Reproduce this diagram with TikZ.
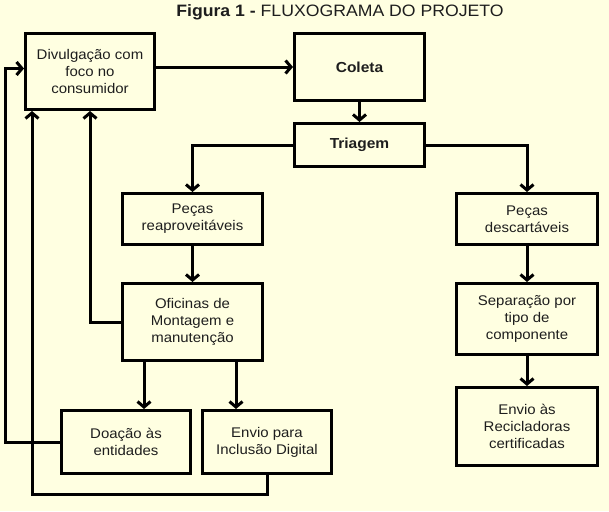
\documentclass[tikz,border=0pt]{standalone}
\usepackage{fontspec}
\setmainfont{Liberation Sans}[FakeStretch=1.07]
\usetikzlibrary{positioning,arrows.meta}
\definecolor{cPaper}{HTML}{FFFFE1}
\definecolor{cInk}{HTML}{1E1E1E}

\begin{document}
\begin{tikzpicture}[x=1pt,y=-1pt,
    box/.style={draw=black,line width=3pt,fill=cPaper,inner sep=2pt,align=center,text=cInk,
      font=\fontsize{14}{17}\selectfont},
    arr/.style={line width=3pt,-{Straight Barb[length=5.5pt,width=13pt]}}]
  \fill[cPaper] (0,0) rectangle (609,511);
  \useasboundingbox (0,0) rectangle (609,511);

  \node[text=cInk,font=\fontsize{16.5}{19}\selectfont] (title) at (340,12.5)
    {\textbf{Figura 1 -} FLUXOGRAMA DO PROJETO};

  % coluna da esquerda
  \node[box,minimum width=129pt,minimum height=76pt] (div) at (90,71.5)
    {Divulgação com\\foco no\\consumidor};
  \node[box,minimum width=140pt,minimum height=51pt] (reap) at (192.5,219)
    {Peças\\reaproveitáveis};
  \node[box,minimum width=140pt,minimum height=77pt] (ofic) at (192.5,322)
    {Oficinas de\\Montagem e\\manutenção};
  \node[box,minimum width=129pt,minimum height=63pt] (doa) at (126,442)
    {Doação às\\entidades};
  \node[box,minimum width=129pt,minimum height=63pt,right=9pt of doa] (inc)
    {Envio para\\Inclusão Digital};

  % centro
  \node[box,minimum width=130pt,minimum height=67pt,font=\fontsize{14.5}{17}\selectfont\bfseries] (col) at (359.5,67) {Coleta};
  \node[box,minimum width=130pt,minimum height=43pt,font=\fontsize{14.5}{17}\selectfont\bfseries] (tri) at (359.5,145) {Triagem};

  % coluna da direita
  \node[box,minimum width=141pt,minimum height=51pt] (desc) at (527,219)
    {Peças\\descartáveis};
  \node[box,minimum width=141pt,minimum height=71pt] (sep) at (527,319)
    {Separação por\\tipo de\\componente};
  \node[box,minimum width=141pt,minimum height=78pt] (rec) at (527,426.5)
    {Envio às\\Recicladoras\\certificadas};

  \draw[arr] (div.east |- col.west) -- (col.west);
  \draw[arr] (col) -- (tri);
  \draw[arr] (tri.west) -| (reap.north);
  \draw[arr] (tri.east) -| (desc.north);
  \draw[arr] (reap) -- (ofic);
  \draw[arr] (desc) -- (sep);
  \draw[arr] (sep) -- (rec);
  \draw[arr] (ofic.west) -| (div.south);
  \draw[arr] ([xshift=18pt]doa.north |- ofic.south) -- ([xshift=18pt]doa.north);
  \draw[arr] ([xshift=-31pt]inc.north |- ofic.south) -- ([xshift=-31pt]inc.north);
  \draw[arr] (doa.west) -- ++(-55,0) |- ([yshift=3pt]div.west);
  \draw[arr] (inc.south) -- ++(0,19) -| ([xshift=8pt]div.south west);
\end{tikzpicture}
\end{document}
